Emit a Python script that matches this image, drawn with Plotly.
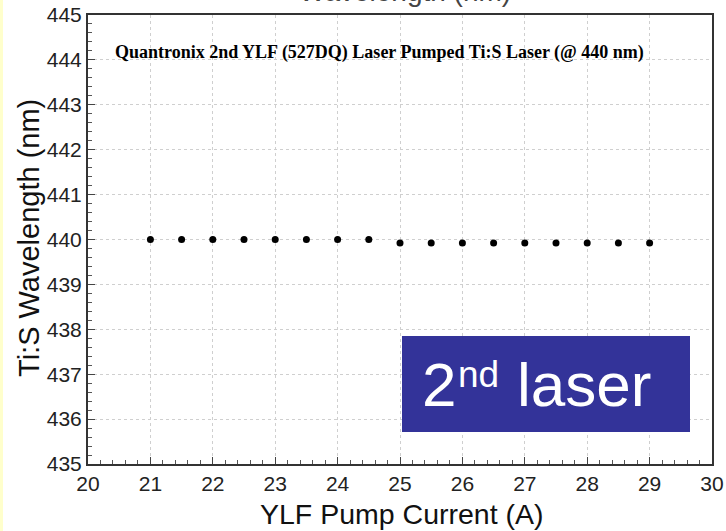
import plotly.graph_objects as go

current = [21, 21.5, 22, 22.5, 23, 23.5, 24, 24.5, 25, 25.5, 26, 26.5, 27, 27.5, 28, 28.5, 29]
wavelength = [440.0, 440.0, 440.0, 440.0, 440.0, 440.0, 440.0, 440.0,
              439.92, 439.92, 439.92, 439.92, 439.92, 439.92, 439.92, 439.92, 439.92]
x_ticks = list(range(20, 31))
y_ticks = list(range(435, 446))

L, R, T, B = 88, 14, 15, 67
PW, PH = 726 - L - R, 531 - T - B

def px(x):
    return (x - L) / PW

def py(y):
    return (531 - B - y) / PH

fig = go.Figure()
fig.add_trace(go.Scatter(x=current, y=wavelength, mode="markers",
                         marker=dict(color="black", size=7), showlegend=False))

axis_font = dict(family="Liberation Sans Narrow, Arial Narrow, Liberation Sans, Arial", size=21, color="#222")
common = dict(ticks="inside", ticklen=7, tickcolor="#444", automargin=False,
              minor=dict(ticks="inside", ticklen=4, dtick=0.2, tickcolor="#555", showgrid=False),
              showgrid=True, gridcolor="#cfcfcf", griddash="dot", gridwidth=1,
              showline=True, linecolor="#333", linewidth=2, mirror=True,
              tickfont=axis_font, zeroline=False)
fig.update_xaxes(range=[20, 30], tickvals=x_ticks, **common)
fig.update_yaxes(range=[435, 445], tickvals=y_ticks, **common)

fig.add_annotation(text="YLF Pump Current (A)", xref="paper", yref="paper", x=px(402), y=py(514),
                   showarrow=False, yanchor="middle",
                   font=dict(family="Liberation Sans, Arial", size=28.5, color="#111"))
fig.add_annotation(text="Ti:S Wavelength (nm)", xref="paper", yref="paper", x=px(29), y=py(238),
                   showarrow=False, textangle=-90, xanchor="center", yanchor="middle",
                   font=dict(family="Liberation Sans, Arial", size=29, color="#111"))
fig.add_annotation(text="<b>Quantronix 2nd YLF (527DQ) Laser Pumped Ti:S Laser (@ 440 nm)</b>",
                   xref="paper", yref="paper", x=px(379), y=py(40), showarrow=False,
                   font=dict(family="Liberation Serif, Times New Roman", size=18, color="black"))
fig.add_annotation(text="Wavelength (nm)", xref="paper", yref="paper", x=px(405), y=1.0, yshift=24,
                   showarrow=False, yanchor="middle",
                   font=dict(family="Liberation Sans, Arial", size=28, color="#444"))
fig.add_shape(type="rect", xref="paper", yref="paper", x0=px(402), x1=px(690),
              y0=py(432), y1=py(336), fillcolor="#333399", line=dict(width=0), layer="above")
big = dict(family="Liberation Sans, Arial", size=62, color="white")
fig.add_annotation(text="2", xref="paper", yref="paper", x=px(420), y=py(384),
                   xanchor="left", yanchor="middle", showarrow=False, font=big)
fig.add_annotation(text="nd", xref="paper", yref="paper", x=px(456), y=py(374),
                   xanchor="left", yanchor="middle", showarrow=False,
                   font=dict(family="Liberation Sans, Arial", size=37, color="white"))
fig.add_annotation(text="laser", xref="paper", yref="paper", x=px(515), y=py(384),
                   xanchor="left", yanchor="middle", showarrow=False, font=big)
fig.add_shape(type="rect", xref="paper", yref="paper", x0=px(0), x1=px(3), y0=py(531), y1=py(0),
              fillcolor="#ffffcc", line=dict(width=0))

fig.update_layout(width=726, height=531, margin=dict(l=L, r=R, t=T, b=B),
                  paper_bgcolor="white", plot_bgcolor="white")
fig.write_html("out.html")
